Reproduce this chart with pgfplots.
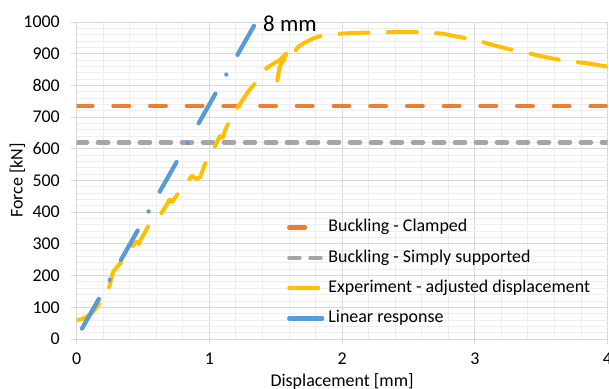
\documentclass[border=0pt]{standalone}
\usepackage{fontspec}
\setmainfont{Carlito}
\usepackage{pgfplots}
\pgfplotsset{compat=1.18}
\usetikzlibrary{calc}
\definecolor{cOrange}{HTML}{ED7D31}
\definecolor{cGray}{HTML}{A5A5A5}
\definecolor{cYellow}{HTML}{FFC000}
\definecolor{cBlue}{HTML}{5B9BD5}
\definecolor{gridMajor}{HTML}{D9D9D9}
\definecolor{gridMinor}{HTML}{EEEEEE}
\newcommand{\cfont}{\fontsize{18}{21}\selectfont}
\begin{document}
\begin{tikzpicture}
\begin{axis}[
  name=ax, scale only axis, width=530.8bp, height=317bp,
  xmin=0, xmax=4, ymin=0, ymax=1000,
  xtick={0,1,2,3,4}, ytick={0,100,...,1000},
  minor x tick num=4, minor y tick num=4,
  grid=both,
  major grid style={draw=gridMajor, line width=0.9bp},
  minor grid style={draw=gridMinor, line width=0.9bp},
  axis lines=left, axis line style={draw=gridMajor, line width=0.9bp, -},
  tick align=outside, major tick length=5.5bp, minor tick length=0pt,
  major tick style={draw=gridMajor, line width=0.9bp},
  /pgf/number format/assume math mode=true,
  /pgf/number format/1000 sep={},
  ticklabel style={font=\cfont, inner sep=0pt},
  yticklabel style={anchor=east}, yticklabel shift=11.2bp,
  xticklabel style={anchor=north}, xticklabel shift=8.5bp,
  xlabel={Displacement [mm]}, ylabel={Force [kN]},
  xlabel style={font=\cfont, at={(axis description cs:0.5,-0.150)}, anchor=base, inner sep=0pt},
  ylabel style={font=\cfont, at={(axis description cs:-0.1019,0.5)}, anchor=base, inner sep=0pt},
  legend style={at={(0.396,0.380)}, anchor=north west, draw=none, fill=none, inner sep=0pt,
    row sep=12.8bp, column sep=4bp, font=\cfont,
    nodes={inner sep=0pt, text height=13bp, text depth=4.5bp}},
  legend cell align=left,
  legend image code/.code={\draw[#1] (0bp,0bp) -- (33bp,0bp);},
  clip=true,
]
\addplot[cOrange, line width=4.3bp, line cap=round, dash pattern=on 15.7bp off 21bp]
  coordinates {(0,735) (4,735)};
\addlegendentry{Buckling - Clamped}
\addplot[cGray, line width=4.1bp, line cap=round, dash pattern=on 10.5bp off 10.5bp]
  coordinates {(0,620) (4,620)};
\addlegendentry{Buckling - Simply supported}
\addplot[cYellow, line width=4bp, line cap=round, line join=round, dash pattern=on 29bp off 19.3bp]
  coordinates {
(0.00,60) (0.04,63) (0.075,70) (0.11,80) (0.15,100) (0.18,120) (0.20,139)
(0.23,150) (0.25,170) (0.26,190) (0.275,212) (0.30,225) (0.33,240) (0.36,258)
(0.39,275) (0.42,292) (0.45,307) (0.47,300) (0.48,312) (0.51,333) (0.55,365)
(0.58,375) (0.62,385) (0.65,405) (0.68,425) (0.70,440) (0.72,432) (0.74,445)
(0.77,462) (0.80,485) (0.84,500) (0.87,515) (0.90,505) (0.93,510) (0.96,545)
(0.99,570) (1.02,590) (1.05,615) (1.08,640) (1.10,635) (1.12,660) (1.155,691)
(1.19,715) (1.22,735) (1.26,760) (1.30,785) (1.356,812) (1.40,835) (1.43,854)
(1.48,868) (1.53,880) (1.58,901) (1.54,860) (1.51,815) (1.53,860) (1.56,880)
(1.60,872) (1.62,882) (1.64,905) (1.67,922) (1.72,935) (1.78,948) (1.84,956)
(1.92,961) (2.02,964) (2.15,966) (2.27,967) (2.40,969) (2.52,969) (2.65,967)
(2.76,963) (2.88,953) (3.01,943) (3.13,928) (3.25,915) (3.38,904) (3.49,893)
(3.62,882) (3.74,875) (3.86,869) (4.00,859)
  };
\addlegendentry{Experiment - adjusted displacement}
\addplot[cBlue, line width=4.3bp, line cap=round, dash pattern=on 34bp off 22bp on 0bp off 22.7bp]
  coordinates {(0.04,33) (1.336,988)};
\addlegendentry{Linear response}
\coordinate (lab) at (axis cs:1.404,993.7);
\coordinate (O) at (rel axis cs:0,0);
\end{axis}
\node[anchor=west, inner sep=0pt, font=\fontsize{23}{27}\selectfont] at (lab) {8 mm};
\pgfresetboundingbox
\path[use as bounding box] ($(O)+(-76.7bp,-50bp)$) rectangle ($(O)+(532.3bp,339bp)$);
\end{tikzpicture}
\end{document}
